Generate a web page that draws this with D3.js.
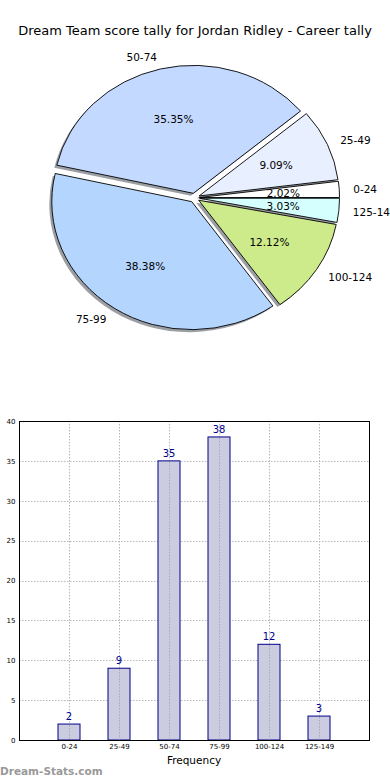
<!DOCTYPE html>
<html>
<head>
<meta charset="utf-8">
<script src="https://cdn.jsdelivr.net/npm/d3@7"></script>
<style>
  body { margin: 0; background: #fff; }
  svg { display: block; font-family: "DejaVu Sans", sans-serif; }
</style>
</head>
<body>
<div id="chart"></div>
<script>
// data
const categories = ["0-24", "25-49", "50-74", "75-99", "100-124", "125-149"];
const counts = [2, 9, 35, 38, 12, 3];
const sliceColors = ["#ffffff", "#e8f0ff", "#c3d9ff", "#b4d5fe", "#cdeb8b", "#d5ffff"];
const yTicks = [0, 5, 10, 15, 20, 25, 30, 35, 40];
const titleText = "Dream Team score tally for Jordan Ridley - Career tally";

const W = 390, H = 780;
const svg = d3.select("#chart").append("svg").attr("width", W).attr("height", H);

svg.append("text")
  .attr("x", 195).attr("y", 35)
  .attr("text-anchor", "middle")
  .style("font-size", "13px")
  .text(titleText);

// ---- pie (elliptical, like an unequal-aspect matplotlib pie) ----
const cx = 194.5, cy = 197.8, sx = 140, sy = 128, explode = 0.036;
const total = d3.sum(counts);
const pieData = d3.pie().sort(null).value(d => d)(counts);
const arc = d3.arc().innerRadius(0).outerRadius(1);

// d3 angles are clockwise from 12 o'clock; matplotlib goes counter-clockwise from 3 o'clock
function toPt(theta, rho) {
  return [cx + sx * rho * Math.cos(theta), cy - sy * rho * Math.sin(theta)];
}
const slices = pieData.map((d, i) => {
  const t0 = d.startAngle, t1 = d.endAngle, mid = (t0 + t1) / 2;
  return {
    i, t0, t1, mid,
    off: [sx * explode * Math.cos(mid), -sy * explode * Math.sin(mid)],
    path: arc({ startAngle: Math.PI / 2 - t1, endAngle: Math.PI / 2 - t0 })
  };
});

const pie = svg.append("g");
pie.selectAll("path.shadow").data(slices).join("path")
  .attr("class", "shadow")
  .attr("d", d => d.path)
  .attr("transform", d => `translate(${cx + d.off[0] - 2.5},${cy + d.off[1] + 2.5}) scale(${sx},${sy})`)
  .attr("fill", "#8a8d93")
  .attr("opacity", 0.85);

pie.selectAll("path.slice").data(slices).join("path")
  .attr("class", "slice")
  .attr("d", d => d.path)
  .attr("transform", d => `translate(${cx + d.off[0]},${cy + d.off[1]}) scale(${sx},${sy})`)
  .attr("fill", d => sliceColors[d.i])
  .attr("stroke", "#000")
  .attr("stroke-width", 0.9)
  .attr("vector-effect", "non-scaling-stroke");

pie.selectAll("text.pct").data(slices).join("text")
  .attr("class", "pct")
  .attr("x", d => toPt(d.mid, 0.6 + explode)[0])
  .attr("y", d => toPt(d.mid, 0.6 + explode)[1])
  .attr("text-anchor", "middle")
  .attr("dominant-baseline", "central")
  .style("font-size", "10.5px")
  .text(d => (counts[d.i] / total * 100).toFixed(2) + "%");

pie.selectAll("text.lab").data(slices).join("text")
  .attr("class", "lab")
  .attr("x", d => toPt(d.mid, 1.1 + explode)[0])
  .attr("y", d => toPt(d.mid, 1.1 + explode)[1] + 0.5)
  .attr("text-anchor", d => Math.cos(d.mid) >= 0 ? "start" : "end")
  .attr("dominant-baseline", "central")
  .style("font-size", "10.5px")
  .text(d => categories[d.i]);

// ---- bar chart ----
const plotL = 19, plotR = 369, plotT = 421, plotB = 740;
const x = d3.scaleLinear().domain([-1, categories.length]).range([plotL, plotR]);
const y = d3.scaleLinear().domain([0, 40]).range([plotB, plotT]);
const barW = 0.44;

const bars = svg.append("g");
const grid = bars.append("g")
  .attr("stroke", "#b8b8b8").attr("stroke-width", 1).attr("stroke-dasharray", "1.5,1.5");
grid.selectAll("line.gx").data(categories).join("line")
  .attr("x1", (d, i) => Math.round(x(i)) + 0.5).attr("x2", (d, i) => Math.round(x(i)) + 0.5)
  .attr("y1", plotT).attr("y2", plotB);
grid.selectAll("line.gy").data(yTicks.slice(1, -1)).join("line")
  .attr("x1", plotL).attr("x2", plotR)
  .attr("y1", d => Math.round(y(d)) + 0.5).attr("y2", d => Math.round(y(d)) + 0.5);

bars.selectAll("rect.bar").data(counts).join("rect")
  .attr("class", "bar")
  .attr("x", (d, i) => x(i - barW / 2))
  .attr("width", x(barW) - x(0))
  .attr("y", d => y(d))
  .attr("height", d => y(0) - y(d))
  .attr("fill", "#cccce0")
  .attr("stroke", "#000088")
  .attr("stroke-width", 1);

// vertical grid shows through the bars in the reference
bars.append("g")
  .attr("stroke", "#a8a8b8").attr("stroke-width", 1).attr("stroke-dasharray", "1.5,1.5")
  .selectAll("line").data(counts).join("line")
  .attr("x1", (d, i) => Math.round(x(i)) + 0.5).attr("x2", (d, i) => Math.round(x(i)) + 0.5)
  .attr("y1", d => y(d) + 1).attr("y2", plotB);

bars.selectAll("text.val").data(counts).join("text")
  .attr("class", "val")
  .attr("x", (d, i) => x(i))
  .attr("y", d => y(d) - 4)
  .attr("text-anchor", "middle")
  .attr("fill", "#00008b")
  .style("font-size", "10px")
  .text(d => d);

bars.append("rect")
  .attr("x", plotL + 0.5).attr("y", plotT + 0.5)
  .attr("width", plotR - plotL).attr("height", plotB - plotT)
  .attr("fill", "none").attr("stroke", "#000").attr("stroke-width", 1);

const yAxis = bars.append("g")
  .attr("transform", `translate(${plotL + 0.5},0)`)
  .call(d3.axisLeft(y).tickValues(yTicks).tickSize(0).tickPadding(4));
yAxis.select(".domain").remove();
yAxis.selectAll("text").style("font-size", "7px").style("font-family", "DejaVu Sans, sans-serif");

const xAxis = bars.append("g")
  .attr("transform", `translate(0,${plotB + 0.5})`)
  .call(d3.axisBottom(x).tickValues(d3.range(categories.length)).tickFormat(i => categories[i]).tickSize(0).tickPadding(4));
xAxis.select(".domain").remove();
xAxis.selectAll("text").style("font-size", "7px").style("font-family", "DejaVu Sans, sans-serif");

bars.append("text")
  .attr("x", (plotL + plotR) / 2).attr("y", 764)
  .attr("text-anchor", "middle")
  .style("font-size", "10.5px")
  .text("Frequency");

svg.append("text")
  .attr("x", 0).attr("y", 775)
  .attr("fill", "#999")
  .style("font-size", "10.5px")
  .style("font-weight", "bold")
  .text("Dream-Stats.com");
</script>
</body>
</html>
